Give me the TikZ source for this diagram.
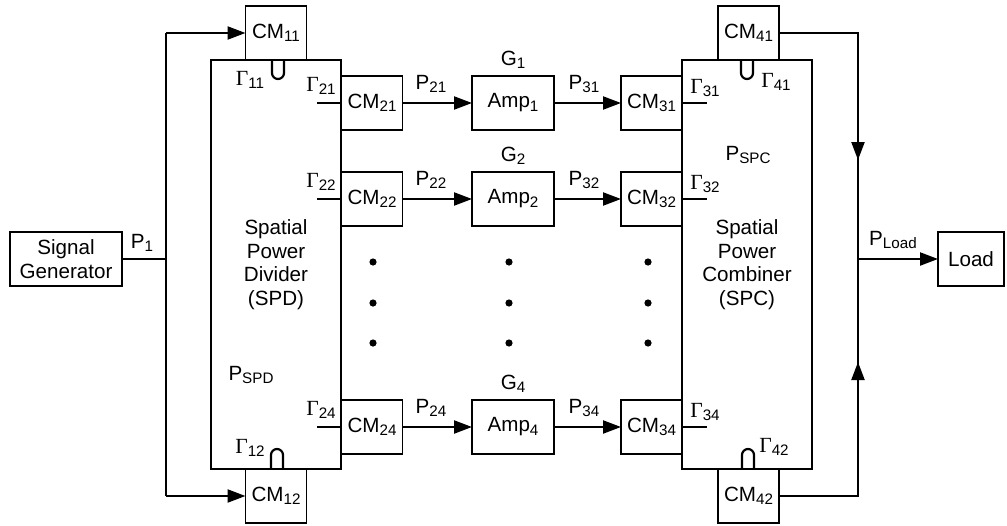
\documentclass[tikz,border=0pt]{standalone}
\usepackage{fontspec}
\setmainfont{Liberation Sans}
\newfontfamily\gammafont{Liberation Serif}
\usetikzlibrary{arrows.meta}

\newcommand{\idx}[1]{\raisebox{-1.8pt}{\fontsize{7.6}{8}\selectfont #1}}
\newcommand{\gam}[1]{{\gammafont\fontsize{10.8}{12}\selectfont Γ}\idx{#1}}

\begin{document}
\begin{tikzpicture}[x=0.5pt, y=-0.5pt,
   box/.style={draw, line width=0.6pt, inner sep=0pt, outer sep=0pt,
               minimum height=27pt, align=center},
   cmbox/.style={box, minimum width=30.5pt},
   ampbox/.style={box, minimum width=41pt},
   bigbox/.style={box, minimum width=65pt, minimum height=204.5pt},
   wire/.style={line width=1.1pt},
   lbl/.style={inner sep=0pt},
   font=\fontsize{10.3}{11.8}\selectfont,
   >={Triangle[length=9pt,width=6.5pt]}]
  \useasboundingbox (0,0) rectangle (1007,525);
  % divider and combiner
  \node[bigbox] (spd) at (276,264.5) {Spatial\\Power\\Divider\\(SPD)};
  \node[bigbox] (spc) at (747,264.5) {Spatial\\Power\\Combiner\\(SPC)};
  \node[box, minimum width=56pt] (sg) at (66,259) {Signal\\Generator};
  \node[box, minimum width=33pt] (load) at (971,259) {Load};
  \node[cmbox] (cm11) at (276,33) {CM\idx{11}};
  \node[cmbox] (cm12) at (276,496) {CM\idx{12}};
  \node[cmbox] (cm41) at (748.5,33) {CM\idx{41}};
  \node[cmbox] (cm42) at (748.5,496) {CM\idx{42}};
  % amplifier rows
  \foreach \i/\y in {1/103, 2/199, 4/427} {
    \node[cmbox] (cm2\i) at (372,\y) {CM\idx{2\i}};
    \node[ampbox] (amp\i) at (513,\y) {Amp\idx{\i}};
    \node[cmbox] (cm3\i) at (651.5,\y) {CM\idx{3\i}};
    \node[lbl] (g\i) at (513,\y-43) {G\idx{\i}};
    \node[lbl] (p2\i) at (431,\y-19) {P\idx{2\i}};
    \node[lbl] (p3\i) at (584,\y-19) {P\idx{3\i}};
    \node[lbl] (gam2\i) at (321,\y-17) {\gam{2\i}};
    \node[lbl] (gam3\i) at (705,\y-15) {\gam{3\i}};
    \coordinate (s2\i) at (317,\y);
    \coordinate (s3\i) at (707,\y);
    \draw[wire] (cm2\i.west) -- (s2\i);
    \draw[wire] (cm3\i.east) -- (s3\i);
    \draw[wire,->] (cm2\i) -- (amp\i);
    \draw[wire,->] (amp\i) -- (cm3\i);
  }
  \foreach \x in {373,509,648}
    \foreach \y in {262,303,343}
      \fill (\x,\y) circle[radius=1.8pt];
  % loops
  \coordinate (u11) at (272,60);
  \coordinate (u12) at (271,469);
  \coordinate (u41) at (741,60);
  \coordinate (u42) at (742,469);
  \draw[wire, rounded corners=3pt] (u11) -- ++(0,19) -- ++(12,0) -- ++(0,-19);
  \draw[wire, rounded corners=3pt] (u41) -- ++(0,19) -- ++(12,0) -- ++(0,-19);
  \draw[wire, rounded corners=3pt] (u12) -- ++(0,-20) -- ++(12,0) -- ++(0,20);
  \draw[wire, rounded corners=3pt] (u42) -- ++(0,-20) -- ++(12,0) -- ++(0,20);
  \node[lbl] (gam11) at (250,80) {\gam{11}};
  \node[lbl] (gam12) at (250,448) {\gam{12}};
  \node[lbl] (gam41) at (776,82) {\gam{41}};
  \node[lbl] (gam42) at (774,447) {\gam{42}};
  \node[lbl] (p1) at (142,243) {P\idx{1}};
  \node[lbl] (pload) at (893,240) {P\idx{Load}};
  \node[lbl] (pspc) at (748,155) {P\idx{SPC}};
  \node[lbl] (pspd) at (251,375) {P\idx{SPD}};
  % feed lines
  \coordinate (ltop) at (166,33);
  \coordinate (lmid) at (166,259);
  \coordinate (lbot) at (166,496);
  \coordinate (rtop) at (858,33);
  \coordinate (rdn) at (858,160);
  \coordinate (rmid) at (858,259);
  \coordinate (rup) at (858,362);
  \coordinate (rbot) at (858,496);
  \draw[wire] (sg) -- (lmid);
  \draw[wire] (ltop) -- (lbot);
  \draw[wire,->] (ltop) -- (cm11);
  \draw[wire,->] (lbot) -- (cm12);
  \draw[wire] (cm41) -- (rtop) -- (rbot) -- (cm42);
  \draw[wire,->] (rtop) -- (rdn);
  \draw[wire,->] (rbot) -- (rup);
  \draw[wire,->] (rmid) -- (load);
\end{tikzpicture}
\end{document}
